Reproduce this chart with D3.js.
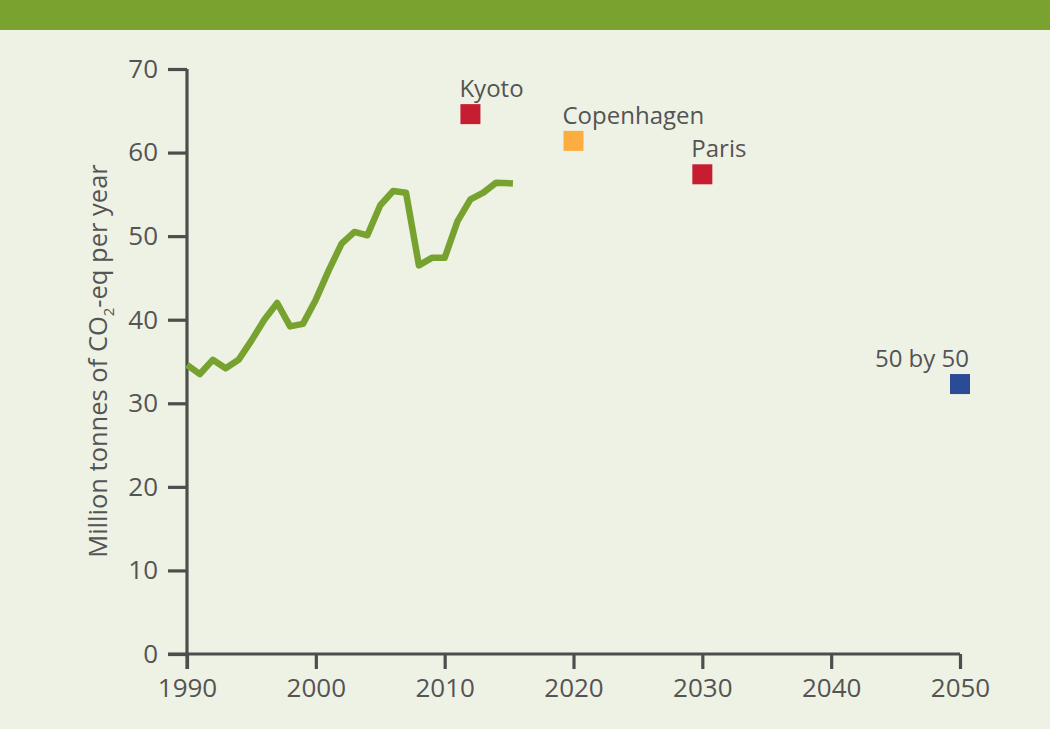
<!DOCTYPE html>
<html>
<head>
<meta charset="utf-8">
<script src="https://cdnjs.cloudflare.com/ajax/libs/d3/7.8.5/d3.min.js"></script>
<style>
  body { margin: 0; background: #eef2e4; }
  text { font-family: "Open Sans", "Noto Sans", sans-serif; fill: #545454; }
</style>
</head>
<body>
<div id="chart"></div>
<script>
// emissions line
var years = [1990, 1991, 1992, 1993, 1994, 1995, 1996, 1997, 1998, 1999, 2000, 2001, 2002,
  2003, 2004, 2005, 2006, 2007, 2008, 2009, 2010, 2011, 2012, 2013, 2014, 2015.3];
var emissions = [34.6, 33.5, 35.2, 34.2, 35.2, 37.5, 40.0, 42.0, 39.2, 39.5, 42.4, 45.9, 49.1,
  50.5, 50.1, 53.7, 55.4, 55.2, 46.5, 47.4, 47.4, 51.8, 54.4, 55.2, 56.4, 56.3];

// target markers
var targetNames = ['Kyoto', 'Copenhagen', 'Paris', '50 by 50'];
var targetYears = [2012, 2020, 2030, 2050];
var targetValues = [64.6, 61.4, 57.4, 32.3];
var targetColors = ['#c61d30', '#fbad40', '#c61d30', '#2b4b97'];

var xTicks = [1990, 2000, 2010, 2020, 2030, 2040, 2050];
var yTicks = [0, 10, 20, 30, 40, 50, 60, 70];

var W = 1050, H = 729;
var margin = {top: 69, right: 90, bottom: 75, left: 187};

var svg = d3.select('#chart').append('svg').attr('width', W).attr('height', H);

svg.append('rect').attr('width', W).attr('height', H).attr('fill', '#eef2e4');
// green band on top
svg.append('rect').attr('width', W).attr('height', 30).attr('fill', '#7aa22e');

var x = d3.scaleLinear().domain([1990, 2050]).range([margin.left, W - margin.right]);
var y = d3.scaleLinear().domain([0, 70]).range([H - margin.bottom, margin.top]);

// axes
var xAxis = svg.append('g')
  .attr('transform', 'translate(0,' + y(0) + ')')
  .call(d3.axisBottom(x).tickValues(xTicks).tickFormat(d3.format('d')).tickSizeInner(15).tickSizeOuter(0).tickPadding(10));
var yAxis = svg.append('g')
  .attr('transform', 'translate(' + x(1990) + ',0)')
  .call(d3.axisLeft(y).tickValues(yTicks).tickSizeInner(19).tickSizeOuter(0).tickPadding(10));

[xAxis, yAxis].forEach(function(a) {
  a.select('.domain').attr('stroke', '#4d4d4d').attr('stroke-width', 3.2);
  a.selectAll('.tick line').attr('stroke', '#4d4d4d').attr('stroke-width', 3.2);
  a.selectAll('.tick text').attr('font-size', 26).attr('fill', '#545454')
    .attr('font-family', '"Open Sans", "Noto Sans", sans-serif');
});
// extend x domain left to meet the 0 tick
xAxis.select('.domain').attr('d', 'M' + (x(1990) - 19) + ',0H' + x(2050));
yAxis.select('.domain').attr('d', 'M0,' + (y(0) + 15) + 'V' + y(70));

// y label
var yl = svg.append('text')
  .attr('transform', 'translate(107,' + 361 + ') rotate(-90)')
  .attr('text-anchor', 'middle')
  .attr('font-size', 25.5);
yl.append('tspan').text('Million tonnes of CO');
yl.append('tspan').text('2').attr('font-size', 15).attr('dy', 7);
yl.append('tspan').text('-eq per year').attr('dy', -7);

// emissions line
var line = d3.line()
  .x(function(d, i) { return x(years[i]); })
  .y(function(d) { return y(d); });

svg.append('path')
  .datum(emissions)
  .attr('d', line)
  .attr('fill', 'none')
  .attr('stroke', '#78a22f')
  .attr('stroke-width', 6.5)
  .attr('stroke-linejoin', 'round');

// target squares
var sq = 20;
var targets = svg.append('g').selectAll('g')
  .data(targetNames)
  .enter().append('g');

targets.append('rect')
  .attr('x', function(d, i) { return x(targetYears[i]) - sq / 2; })
  .attr('y', function(d, i) { return y(targetValues[i]) - sq / 2; })
  .attr('width', sq)
  .attr('height', sq)
  .attr('fill', function(d, i) { return targetColors[i]; });

targets.append('text')
  .attr('x', function(d, i) { return i == 3 ? x(targetYears[i]) + 9 : x(targetYears[i]) - sq / 2 - 1; })
  .attr('y', function(d, i) { return y(targetValues[i]) - 17; })
  .attr('text-anchor', function(d, i) { return i == 3 ? 'end' : 'start'; })
  .attr('font-size', 24)
  .text(function(d) { return d; });
</script>
</body>
</html>
